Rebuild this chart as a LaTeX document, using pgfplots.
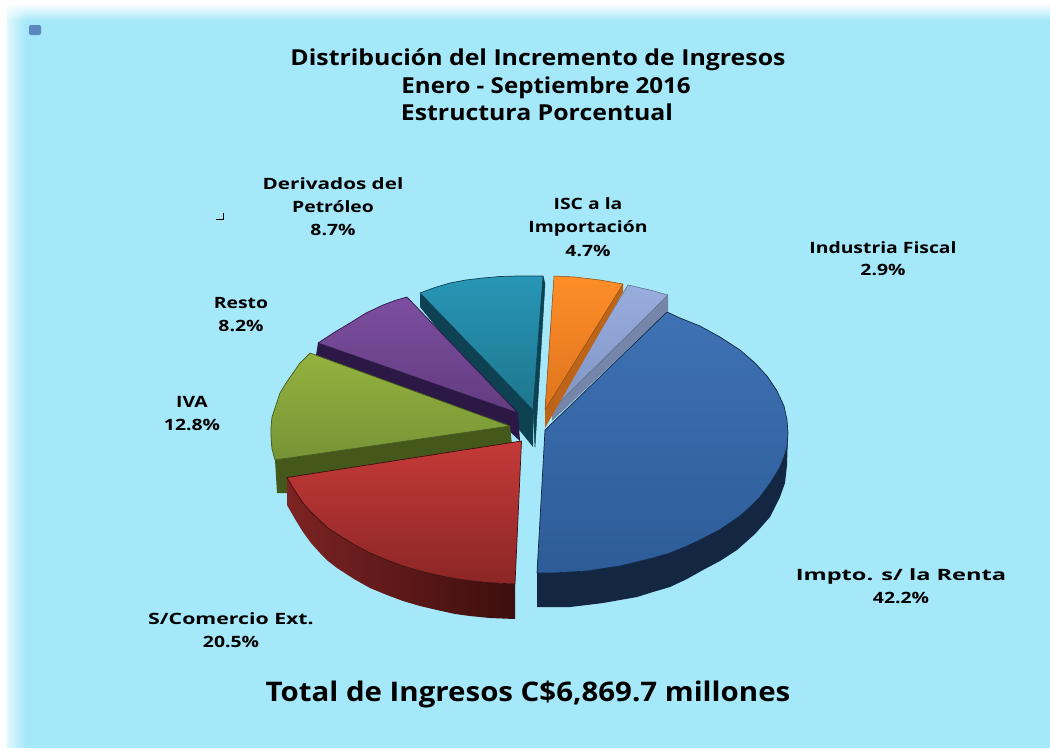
\documentclass[border=0pt]{standalone}
\usepackage{pgfplots}
\pgfplotsset{compat=1.18}
\usetikzlibrary{fadings}
\usepackage{graphicx}
\usepackage{fontspec}
\setmainfont{Open Sans}
\newfontfamily\labfont[FakeStretch=1.24]{Open Sans}
\newfontfamily\ttlfont[FakeStretch=1.13]{Open Sans}
\newfontfamily\totfont[FakeStretch=1.09]{Open Sans}
\definecolor{bgc}{RGB}{165,232,250}
% top faces: a = upper shade, b = lower shade, e = edge
\definecolor{blueA}{RGB}{62,114,180}\definecolor{blueB}{RGB}{45,92,152}\definecolor{blueS}{RGB}{19,38,66}
\definecolor{redA}{RGB}{196,58,56}\definecolor{redB}{RGB}{140,38,38}\definecolor{redS}{RGB}{125,35,35}\definecolor{redT}{RGB}{60,14,14}
\definecolor{grnA}{RGB}{148,178,62}\definecolor{grnB}{RGB}{118,148,54}\definecolor{grnS}{RGB}{68,88,28}
\definecolor{purA}{RGB}{124,78,160}\definecolor{purB}{RGB}{98,60,128}\definecolor{purS}{RGB}{44,24,68}
\definecolor{tealA}{RGB}{40,150,182}\definecolor{tealB}{RGB}{30,118,142}\definecolor{tealS}{RGB}{14,66,82}
\definecolor{orgA}{RGB}{255,142,40}\definecolor{orgB}{RGB}{222,116,30}\definecolor{orgS}{RGB}{190,100,25}
\definecolor{ltbA}{RGB}{152,172,222}\definecolor{ltbB}{RGB}{128,148,196}\definecolor{ltbS}{RGB}{118,134,170}
\newcommand{\lab}[3]{\node[anchor=base,font=\labfont\bfseries\fontsize{15.6}{18}\selectfont] at (axis cs:#1,#2) {#3};}
\newcommand{\ttl}[3]{\node[anchor=base,font=\ttlfont\bfseries\fontsize{22}{26}\selectfont] at (axis cs:#1,#2) {#3};}
\begin{document}
\begin{tikzpicture}
\begin{axis}[
    width=1050pt, height=748pt, scale only axis,
    xmin=0, xmax=1050, ymin=0, ymax=748, y dir=reverse,
    hide axis, clip=false, no markers,
    every axis plot/.append style={line join=round},
    ]
% background
\fill[white] (axis cs:0,0) rectangle (axis cs:1050,748);
\fill[bgc] (axis cs:7,20) rectangle (axis cs:1050,748);
\shade[top color=white, bottom color=bgc] (axis cs:7,3) rectangle (axis cs:1050,21);
\fill[white, fill opacity=0.65, path fading=east] (axis cs:7,3) rectangle (axis cs:26,748);

% teal slice
\addplot[draw=none, fill=tealS] coordinates {(420,293) (533,410) (533,447) (420,307) (420,293)};
\addplot[draw=tealS, fill=tealS, line width=0.5pt] coordinates {(543,276) (545,284) (535,447) (533,410) (543,276)};
\addplot[draw=tealS, line width=0.7pt, top color=tealA, bottom color=tealB] coordinates {(420,293) (435,287.5) (450,283) (466,280) (483,278) (500,276.5) (517,276) (543,276) (533,410) (420,293)};
% purple slice
\addplot[draw=none, fill=purS] coordinates {(318,343) (518,413) (520,441) (508,430) (316,355) (318,343)};
\addplot[draw=purS, line width=0.7pt, top color=purA, bottom color=purB] coordinates {(407,297) (395,300.5) (383,305) (366,313) (350,323) (334,332.5) (318,343) (518,413) (407,297)};
% green slice
\addplot[draw=none, fill=grnS] coordinates {(275,460) (510,426) (512,445) (287,483) (287,493) (277,493) (275,460)};
\addplot[draw=grnS, line width=0.7pt, top color=grnA, bottom color=grnB] coordinates {(310,353) (300,363) (293,373) (286,383) (280,393) (276,405) (272,417) (271,427) (271,437) (272,449) (275,460) (510,426) (310,353)};
% red slice
\addplot[draw=none, left color=redS, right color=redT] coordinates {(287,477.5) (295,491) (303,503) (311,512) (320,520.6) (328,528) (337,534) (354,544.5) (370,553) (387,560) (403,566) (420,571) (437,575) (455,578.6) (470,580.7) (490,582.8) (515,584) (515,619) (490,618) (470,616) (455,614) (437,610) (420,606) (403,601) (387,595) (370,588) (354,579) (337,568) (328,561) (320,553) (311,543) (303,532) (295,519) (287,505) (287,477.5)};
\addplot[draw=redT, line width=0.7pt, top color=redA, bottom color=redB] coordinates {(287,477.5) (295,491) (303,503) (311,512) (320,520.6) (328,528) (337,534) (354,544.5) (370,553) (387,560) (403,566) (420,571) (437,575) (455,578.6) (470,580.7) (490,582.8) (515,584) (521.5,441) (287,477.5)};
% light blue slice
\addplot[draw=none, fill=ltbS] coordinates {(668,295) (668,311) (552,421) (552,410) (668,295)};
\addplot[draw=blueS!70, line width=0.5pt, top color=ltbA, bottom color=ltbB] coordinates {(628,285) (650,290) (668,295) (552,410) (628,285)};
% orange slice
\addplot[draw=none, fill=orgS] coordinates {(623,284) (623,292) (545,428) (545,410) (623,284)};
\addplot[draw=orgS!70!black, line width=0.5pt, top color=orgA, bottom color=orgB] coordinates {(554,276) (575,277) (600,280) (623,284) (545,410) (554,276)};
% blue slice
\addplot[draw=none, fill=blueS] coordinates {(788,433) (787,447) (784,457) (780,467) (771,482) (760,497) (750,507) (740,516) (720,529.5) (700,540) (687,546) (670,553) (653,558) (620,566) (587,571) (553,573) (537,573) (537,607) (553,607) (570,607) (587,605) (603,603) (620,600) (637,597) (653,592) (670,587) (687,579) (703,570) (720,561) (737,550) (755,534) (770,517) (780,497) (785,483) (787,465) (788,433)};
\addplot[draw=blueS, line width=0.7pt, top color=blueA, bottom color=blueB] coordinates {(667,312) (680,318) (700,326) (720,337) (740,350) (755,363) (767,376) (777,391) (784,406) (787,420) (788,433) (787,447) (784,457) (780,467) (771,482) (760,497) (750,507) (740,516) (720,529.5) (700,540) (687,546) (670,553) (653,558) (620,566) (587,571) (553,573) (537,573) (545,430) (667,312)};

% stray marks of the original
\fill[rounded corners=2pt, fill=blueA!85!white] (axis cs:29,25) rectangle (axis cs:41,35);
\draw[black, line width=1pt] (axis cs:216,219) -- (axis cs:223,219) -- (axis cs:223,213);

% titles
\ttl{538}{65}{Distribución del Incremento de Ingresos}
\ttl{546}{93}{\scalebox{0.97}[1]{Enero - Septiembre 2016}}
\ttl{537}{120}{Estructura Porcentual}
\node[anchor=base,font=\totfont\bfseries\fontsize{27}{32}\selectfont] at (axis cs:528,701) {Total de Ingresos C\$6,869.7 millones};

% slice labels
\lab{333}{189}{\scalebox{1.07}[1]{Derivados del}}
\lab{333}{212}{Petróleo}
\lab{333}{235}{8.7\%}
\lab{588}{209}{ISC a la}
\lab{588}{232}{Importación}
\lab{588}{256}{4.7\%}
\lab{883}{253}{Industria Fiscal}
\lab{883}{275}{2.9\%}
\lab{241}{308}{Resto}
\lab{241}{331}{8.2\%}
\lab{192}{407}{IVA}
\lab{192}{430}{12.8\%}
\lab{231}{624}{\scalebox{1.10}[1]{S/Comercio Ext.}}
\lab{231}{647}{20.5\%}
\lab{901}{580}{\scalebox{1.22}[1]{Impto. s/ la Renta}}
\lab{901}{603}{42.2\%}
\end{axis}
\end{tikzpicture}
\end{document}
